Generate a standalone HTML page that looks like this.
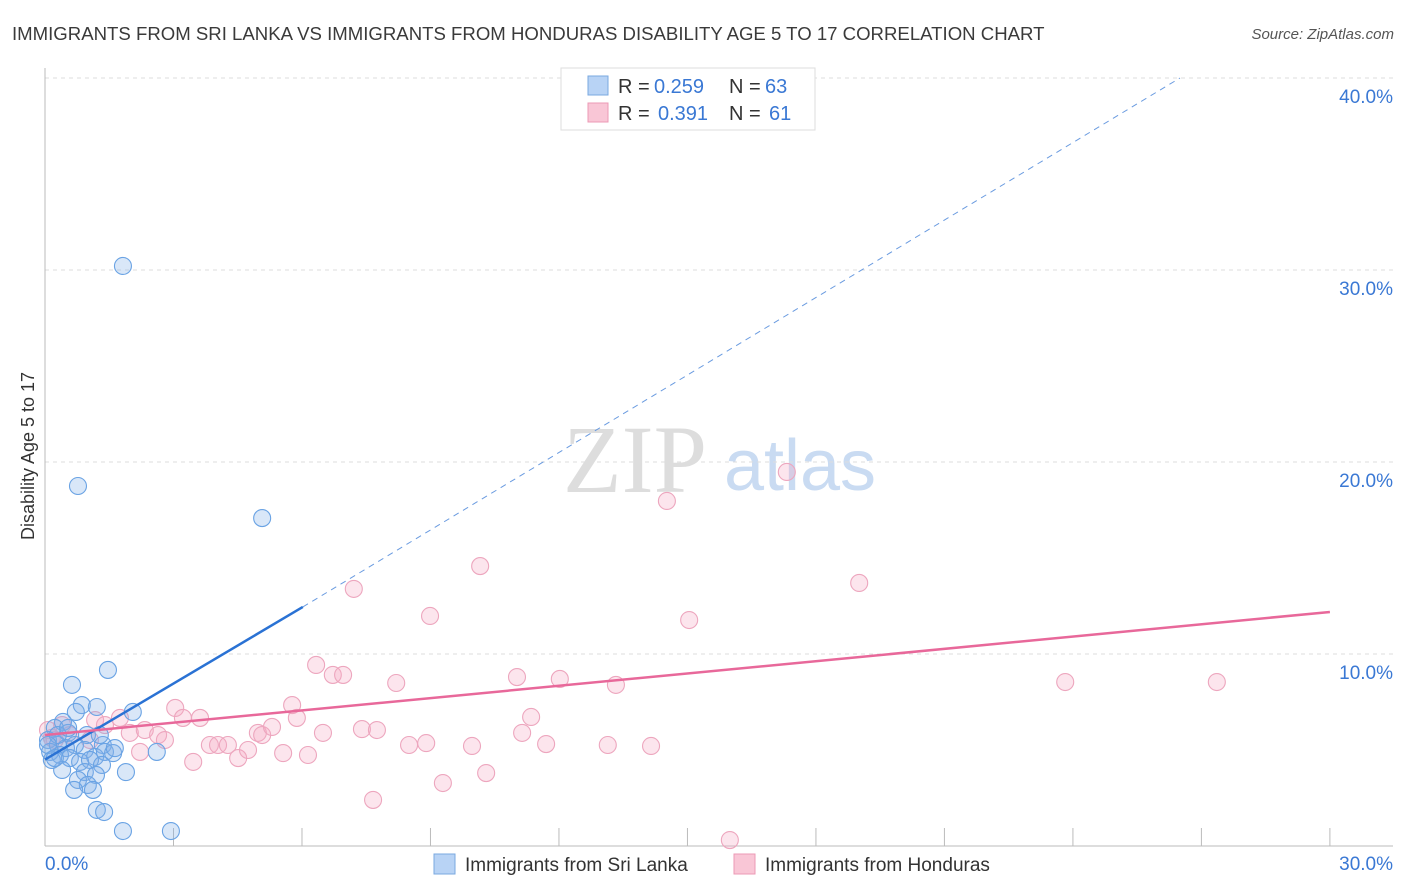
<!DOCTYPE html>
<html><head><meta charset="utf-8"><style>
body{margin:0;background:#fff;font-family:"Liberation Sans",sans-serif;}
svg{display:block}
</style></head><body>
<svg id="chart" width="1406" height="892" xmlns="http://www.w3.org/2000/svg">
<text x="12" y="40" font-size="18.6" fill="#3a3a3a">IMMIGRANTS FROM SRI LANKA VS IMMIGRANTS FROM HONDURAS DISABILITY AGE 5 TO 17 CORRELATION CHART</text>
<text x="1394" y="39" font-size="15" fill="#555" font-style="italic" text-anchor="end">Source: ZipAtlas.com</text>
<text x="34" y="456" font-size="18" fill="#333" text-anchor="middle" transform="rotate(-90 34 456)">Disability Age 5 to 17</text>
<g>
<text x="635" y="492" font-size="96" fill="#ddd" font-family="Liberation Serif,serif" text-anchor="middle">ZIP</text>
<text x="800" y="490" font-size="72" fill="#c9dbf2" text-anchor="middle">atlas</text>
</g>
<g id="grid"></g>
<g id="axes"></g>
<g id="pts"></g>
<g id="lines"></g>
<g>
<rect x="561" y="68" width="254" height="62" fill="#fff" stroke="#ddd"/>
<rect x="588" y="76" width="20" height="19" fill="#b8d3f5" stroke="#7aa8e0"/>
<rect x="588" y="103" width="20" height="19" fill="#f9c6d6" stroke="#ec9ab5"/>
<text x="618" y="93" font-size="20" fill="#333">R =</text>
<text x="654" y="93" font-size="20" fill="#3a78d4">0.259</text>
<text x="729" y="93" font-size="20" fill="#333">N =</text>
<text x="765" y="93" font-size="20" fill="#3a78d4">63</text>
<text x="618" y="120" font-size="20" fill="#333">R =</text>
<text x="658" y="120" font-size="20" fill="#3a78d4">0.391</text>
<text x="729" y="120" font-size="20" fill="#333">N =</text>
<text x="769" y="120" font-size="20" fill="#3a78d4">61</text>
</g>
<g>
<rect x="434" y="854" width="21" height="20" fill="#b8d3f5" stroke="#7aa8e0"/>
<text x="465" y="871" font-size="19" fill="#333">Immigrants from Sri Lanka</text>
<rect x="734" y="854" width="21" height="20" fill="#f9c6d6" stroke="#ec9ab5"/>
<text x="765" y="871" font-size="19" fill="#333">Immigrants from Honduras</text>
</g>
</svg>
<script>
const blueX=[1.82,0.77,5.07,1.47,0.63,0.86,1.21,0.72,2.05,0.42,0.23,0.54,0.98,1.35,0.07,0.30,0.49,0.70,0.93,0.12,0.35,1.17,1.40,1.59,2.61,0.58,0.82,1.05,1.33,0.40,0.93,1.19,1.89,0.77,1.00,0.68,1.12,1.21,1.38,1.82,2.94,0.16,0.30,0.54,0.07,0.23,1.28,1.63];
const blueY=[30.21,18.75,17.08,9.17,8.39,7.34,7.24,6.98,6.98,6.46,6.15,5.89,5.78,5.26,5.52,5.26,5.10,5.26,5.00,4.90,4.74,4.64,4.90,4.84,4.90,4.58,4.38,4.48,4.22,3.96,3.85,3.70,3.85,3.44,3.18,2.92,2.92,1.88,1.77,0.78,0.78,4.48,5.78,6.15,5.26,4.58,5.78,5.10];
const pinkX=[0.07,0.23,0.40,0.58,1.05,1.17,1.40,1.75,1.98,2.22,2.33,2.64,2.80,3.04,3.22,3.62,3.46,3.85,4.04,4.27,4.51,4.74,4.97,5.07,5.30,5.56,5.77,5.88,6.14,6.33,6.49,6.72,6.96,7.21,7.40,7.66,7.75,8.20,8.50,8.90,8.99,9.29,9.97,10.16,10.30,11.02,11.14,11.35,11.70,12.02,13.14,13.33,14.15,14.52,15.04,15.99,17.32,19.01,23.82,27.36,0.16];
const pinkY=[6.04,5.52,6.30,5.78,5.52,6.56,6.30,6.67,5.89,4.90,6.04,5.78,5.52,7.19,6.67,6.67,4.38,5.26,5.26,5.26,4.58,5.00,5.89,5.78,6.20,4.84,7.34,6.67,4.74,9.43,5.89,8.91,8.91,13.39,6.09,2.40,6.04,8.49,5.26,5.36,11.98,3.28,5.21,14.58,3.80,8.80,5.89,6.72,5.31,8.70,5.26,8.39,5.21,17.97,11.77,0.31,19.48,13.70,8.54,8.54,5.63];
const blueTrend=[[0,4.5],[6.02,12.45],[26.5,40.0]];
const pinkTrend=[[0,5.78],[30,12.19]];
const yTicks=[10,20,30,40];
const xTickLabels=["0.0%","30.0%"];
const NS="http://www.w3.org/2000/svg";
const sx=v=>45+v*42.83, sy=v=>846-v*19.2;
function mk(parent,tag,attrs){const e=document.createElementNS(NS,tag);for(const k in attrs)e.setAttribute(k,attrs[k]);document.getElementById(parent).appendChild(e);return e;}
yTicks.forEach(t=>{
 const l=mk('grid','line',{x1:45,x2:1393,y1:sy(t),y2:sy(t),stroke:'#ddd','stroke-dasharray':'4,4'});
 
 
 const tx=mk('grid','text',{x:1393,y:sy(t)+25,'font-size':19,fill:'#3a78d4','text-anchor':'end'});
 tx.textContent=t.toFixed(1)+'%';
 
 
});
let a=mk('axes','line',{x1:45,x2:45,y1:68,y2:846,stroke:'#bbb'});


a=mk('axes','line',{x1:45,x2:1393,y1:846,y2:846,stroke:'#bbb'});


for(let i=1;i<=10;i++){const t=mk('axes','line',{x1:sx(i*3),x2:sx(i*3),y1:828,y2:846,stroke:'#bbb'});
 
 }
let xl=mk('axes','text',{x:45,y:870,'font-size':19,fill:'#3a78d4'});xl.textContent=xTickLabels[0];


xl=mk('axes','text',{x:1393,y:870,'font-size':19,fill:'#3a78d4','text-anchor':'end'});xl.textContent=xTickLabels[1];


pinkX.forEach((x,i)=>{const c=mk('pts','circle',{cx:sx(x),cy:sy(pinkY[i]),r:8.5,fill:'rgba(244,170,195,0.3)',stroke:'#eda6be','stroke-width':1.1});
 
 });
blueX.forEach((x,i)=>{const c=mk('pts','circle',{cx:sx(x),cy:sy(blueY[i]),r:8.5,fill:'rgba(130,175,232,0.3)',stroke:'#6aa3e4','stroke-width':1.1});
 
 });
let ln=mk('lines','line',{x1:sx(blueTrend[0][0]),y1:sy(blueTrend[0][1]),x2:sx(blueTrend[1][0]),y2:sy(blueTrend[1][1]),stroke:'#2a72d4','stroke-width':2.5});


ln=mk('lines','line',{x1:sx(blueTrend[1][0]),y1:sy(blueTrend[1][1]),x2:sx(blueTrend[2][0]),y2:sy(blueTrend[2][1]),stroke:'#6a9be0','stroke-width':1,'stroke-dasharray':'6,5'});


ln=mk('lines','line',{x1:sx(pinkTrend[0][0]),y1:sy(pinkTrend[0][1]),x2:sx(pinkTrend[1][0]),y2:sy(pinkTrend[1][1]),stroke:'#e8689a','stroke-width':2.5});


</script>
</body></html>
